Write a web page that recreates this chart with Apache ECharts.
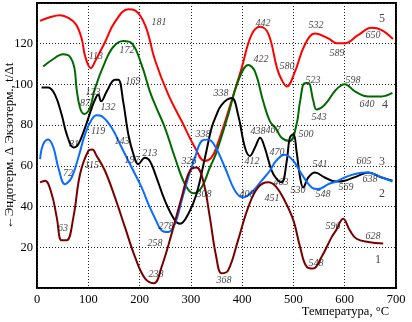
<!DOCTYPE html>
<html><head><meta charset="utf-8">
<script src="https://cdn.jsdelivr.net/npm/echarts@6/dist/echarts.min.js"></script>
<style>html,body{margin:0;padding:0;background:#fff}#c{width:412px;height:322px}</style>
</head><body><div id="c"></div>
<script>
// Curve 5 (red)
const redX=[6,25,45,62,76,87,94,105,113,133,152,178,191,211,230,256,282,308,327,340,351,373,399,418,435,451,468,477,487,503,522,542,568,585,600,626,652,672,694];
const redY=[131.2,133,134,132.6,129.5,122.6,113.7,108,111.2,121,130.7,136.9,136.4,129,112,95,82,69,62.4,64,70,86.8,108,124.2,128.3,125,108,102.3,99,106.3,119.4,125,122.6,120.2,120.2,124.2,127.8,126.7,122.3];
// Curve 4 (green)
const greenX=[12,29,51,64,73,77,84,92,103,113,133,149,168,185,204,220,232,249.5,269,288.5,305,321,337,349,373,392,412,425,441,454,466,477,493,506,513,522,529,539,545,561,583,600,620,646,672,693];
const greenY=[108.8,112,114.8,113.7,108,98.2,88.4,85.5,88.4,98,111.2,118.5,121.3,120.2,109.6,96.6,89,78.7,64,51,46.5,49.4,59.2,66,85.2,101.5,109.6,106.3,91.7,82,78.3,73.8,72.2,80.3,91.7,100.6,100.6,91.7,87.7,90,97.4,100.1,96.6,94.1,94.1,95.8];
// Curve 3 (black)
const blackX=[9,22,35,48,58,71,80.5,93.6,106.6,113,119.5,125,136,152,158.5,168,178,188,197.5,210.5,220,232,249.5,269,279,295,311,327.5,340.5,349,360,379.5,392,405.5,415,425,435,444,457,466,477,487,493,500,506,513,519,529,542,561,583,600,626,646,672,693];
const blackY=[98.5,98.5,95,85.2,75.5,69,70.6,78.7,88.4,92.5,95,91.7,96.6,102.3,102.3,91.7,75.5,65.7,60.8,64,62.4,55,42.9,33.2,31.6,36.4,46.2,64,78.7,84.5,90,93.3,85.2,69,64.9,69,73.8,69,58,54,51.9,62.4,73.8,75.5,67.3,54.3,49.4,54.3,56.7,54.3,52.3,52.7,55.1,56.7,54.3,52.7];
// Curve 2 (blue)
const blueX=[6,12,22,32,41.5,54.6,67.6,80.5,93.6,106.6,116,126,145.6,165,184.6,204,217,232,243,256,269,282,295,308,321,334,347,366.5,386,402,418.5,438,454,466,483,500,516,535.5,548,568,583,600,620,643,665,693];
const blueY=[63.3,70.6,73,69,59.2,51,54.3,64,75.5,82.8,84.9,84.4,78.7,69,59.2,49.4,41.3,33.2,28.3,27.5,31.6,42.9,54.3,64,72.2,73,69.8,59.2,47.8,44.5,47,52.7,57.6,62.4,65.4,62.4,56,49.4,48.6,51,52.3,54.3,56,56.7,55.1,52.3];
// Curve 1 (dark red)
const dredX=[6,15.6,28.6,38.4,48,58,71,84,100,108,116,132.5,152,171.5,191,210.5,228,243,262.6,282,298,311,324,337,349,360,373,392,412,431,451,466,483,500,513,526,538.6,555,574.5,583,597,610,623,646,675];
const dredY=[51.9,52.7,46.2,34.8,23.4,23.4,34.8,56,67.3,68,65,57.6,44.5,29.9,15.3,4.7,2.3,10.4,26.7,44.5,57.6,59.2,52.7,34.8,16,7.2,8.8,23.4,39.7,49.4,51.9,49.8,42.9,33.2,20.1,10.4,9.6,15.3,25,28.3,34,28.3,24.2,22.6,21.8];

// Tick values
const xTicks=[0,100,200,300,400,500,600,700];
const yTicks=[20,40,60,80,100,120];

// Peak annotations: text and anchor in data coordinates
const peakText=['181','113','172','123','87','132','169','81','119','143','72','115','63','197','213','258','238','278','326','308','338','338','368','408','412','422','442','438','451','467','470','463','500','530','541','548','548','569','605','638','596','628','580','532','589','650','523','543','598','640'];
const peakAtX=[237.8,115,175.4,109,93.6,138.4,187,72,119,165.7,60.4,107.2,50.7,185,220,230,232,251.5,296.3,325.5,323.6,358.7,364.5,409.4,419,436.6,440.5,430.8,458,460,467.8,475.6,524.4,508.8,551.7,557.5,543.9,602.3,637.4,649.1,577,655,487.3,543.9,584.8,655,538,549.7,616,643.3];
const peakAtY=[130.7,113.7,116.6,96.1,90.7,88.8,101.5,70.7,77.1,72.2,56.1,60,29.3,62.9,65.9,22,6.8,30.2,62,45.9,75.6,95.6,3.9,45.9,62.4,112.2,130.2,77.1,43.9,77.6,66.8,51.7,75.6,47.8,60.5,45.9,12.2,49.3,62,53.2,30.2,25.4,108.8,128.8,115.1,123.9,102,83.9,102,90.2];

// Curve numbers
const curveNum=['5','4','3','2','1'];
const curveNumX=[672.5,678.4,672.5,672.5,664.7];
const curveNumY=[132.2,90.2,62,46.3,13.7];

const pairs=(xs,ys)=>xs.map((x,i)=>[x,ys[i]]);
const serif='"Liberation Serif","DejaVu Serif",serif';

function curve(name,xs,ys,color){
  return {name,type:'line',data:pairs(xs,ys),smooth:0.4,showSymbol:false,
    lineStyle:{color,width:2},itemStyle:{color},z:3,silent:true};
}

const chart=echarts.init(document.getElementById('c'),null,{renderer:'canvas'});
chart.setOption({
  animation:false,
  backgroundColor:'#fff',
  grid:{left:37,right:16,top:3,bottom:34,outerBoundsMode:'none',containLabel:false,
    show:true,borderColor:'#000',borderWidth:2,backgroundColor:'transparent'},
  xAxis:{type:'value',min:0,max:700,interval:100,
    axisLine:{show:false},axisTick:{show:false},
    axisLabel:{fontFamily:serif,fontSize:12.5,color:'#000',margin:5,
      formatter:v=>xTicks.indexOf(v)>=0?String(v):''},
    splitLine:{show:true,lineStyle:{type:[1,2],color:'#222',width:1}}},
  yAxis:{type:'value',min:0,max:140,interval:20,
    axisLine:{show:false},axisTick:{show:false},
    axisLabel:{fontFamily:serif,fontSize:12.5,color:'#000',margin:4,
      formatter:v=>yTicks.indexOf(v)>=0?String(v):''},
    splitLine:{show:true,lineStyle:{type:[1,2],color:'#222',width:1}}},
  graphic:[
    {type:'text',right:23,top:305,style:{text:'Температура, °C',font:'12.5px '+serif,fill:'#000'}},
    {type:'text',x:10,y:146,rotation:Math.PI/2,style:{text:'←Эндотерм. Δ Экзотерм., t/Δt',font:'13px '+serif,fill:'#000',align:'center',verticalAlign:'middle'}}
  ],
  series:[
    curve('5',redX,redY,'#ff0000'),
    curve('4',greenX,greenY,'#006a00'),
    curve('3',blackX,blackY,'#000000'),
    curve('2',blueX,blueY,'#0a6cff'),
    curve('1',dredX,dredY,'#7a0000'),
    {type:'scatter',symbolSize:0,silent:true,z:5,
      data:peakText.map((t,i)=>({name:t,value:[peakAtX[i],peakAtY[i]]})),
      label:{show:true,position:'inside',formatter:'{b}',fontFamily:serif,fontStyle:'italic',fontSize:10,color:'#111'}},
    {type:'scatter',symbolSize:0,silent:true,z:5,
      data:curveNum.map((t,i)=>({name:t,value:[curveNumX[i],curveNumY[i]]})),
      label:{show:true,position:'inside',formatter:'{b}',fontFamily:serif,fontSize:12,color:'#111'}}
  ]
});
</script></body></html>
